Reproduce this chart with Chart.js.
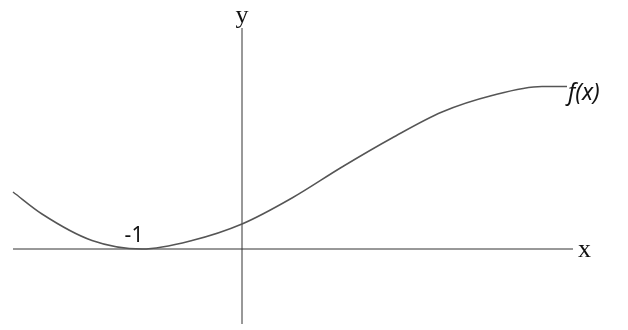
<!DOCTYPE html>
<html lang="en">
  <head>
    <meta charset="UTF-8" />
    <title>f(x)</title>
    <style>
      html, body { margin: 0; padding: 0; background: #fff; }
      #box { width: 628px; height: 330px; }
    </style>
  </head>
  <body>
    <div id="box"><canvas id="myChart"></canvas></div>
  </body>
</html>
<script src="https://cdn.jsdelivr.net/npm/chart.js"></script>
<script>
  // curve (x, y in axis units)
  var curveX = [-2.29, -2, -1.5, -1, -0.5, 0, 0.5, 1, 1.5, 2, 2.5, 3, 3.25];
  var curveY = [0.57, 0.35, 0.085, 0, 0.085, 0.25, 0.51, 0.82, 1.11, 1.37, 1.535, 1.625, 1.625];

  // axis lines
  var xAxisX = [-2.29, 3.31];
  var yAxisY = [-0.75, 2.21];

  // text on the picture
  var minLabel = "-1";
  var curveLabel = "f(x)";

  var pts = [];
  for (var c = 0; c < curveX.length; c++) {
    pts.push({ x: curveX[c], y: curveY[c] });
  }

  var labels = {
    id: "labels",
    afterDatasetsDraw: function (chart) {
      var ctx = chart.ctx;
      var sx = chart.scales.x;
      var sy = chart.scales.y;
      ctx.save();
      ctx.fillStyle = "#111";
      ctx.textBaseline = "middle";

      ctx.font = "26px 'Liberation Serif'";
      ctx.textAlign = "left";
      ctx.fillText("x", sx.getPixelForValue(xAxisX[1]) + 5, sy.getPixelForValue(0) + 1);
      ctx.textAlign = "center";
      ctx.fillText("y", sx.getPixelForValue(0), sy.getPixelForValue(yAxisY[1]) - 12);

      ctx.font = "21px 'Noto Sans'";
      ctx.fillText(minLabel, sx.getPixelForValue(-1.08), sy.getPixelForValue(0) - 13);

      var last = curveX.length - 1;
      ctx.font = "italic 23px 'Noto Sans'";
      ctx.textAlign = "left";
      ctx.fillText(curveLabel, sx.getPixelForValue(curveX[last]) + 1, sy.getPixelForValue(curveY[last]) + 7);
      ctx.restore();
    },
  };

  const data = {
    datasets: [
      {
        label: "f(x)",
        data: pts,
        borderColor: "#555",
        borderWidth: 1.5,
        pointRadius: 0,
        cubicInterpolationMode: "monotone",
      },
      {
        label: "x axis",
        data: [{ x: xAxisX[0], y: 0 }, { x: xAxisX[1], y: 0 }],
        borderColor: "#333",
        borderWidth: 1,
        pointRadius: 0,
      },
      {
        label: "y axis",
        data: [{ x: 0, y: yAxisY[0] }, { x: 0, y: yAxisY[1] }],
        borderColor: "#333",
        borderWidth: 1,
        pointRadius: 0,
      },
    ],
  };

  const config = {
    type: "line",
    data: data,
    options: {
      responsive: true,
      maintainAspectRatio: false,
      animation: false,
      layout: { padding: 0 },
      plugins: {
        legend: { display: false },
        tooltip: { enabled: false },
      },
      scales: {
        x: { type: "linear", min: -2.42, max: 3.86, display: false },
        y: { type: "linear", min: -0.81, max: 2.49, display: false },
      },
    },
    plugins: [labels],
  };

  const myChart = new Chart(document.getElementById("myChart"), config);
</script>
